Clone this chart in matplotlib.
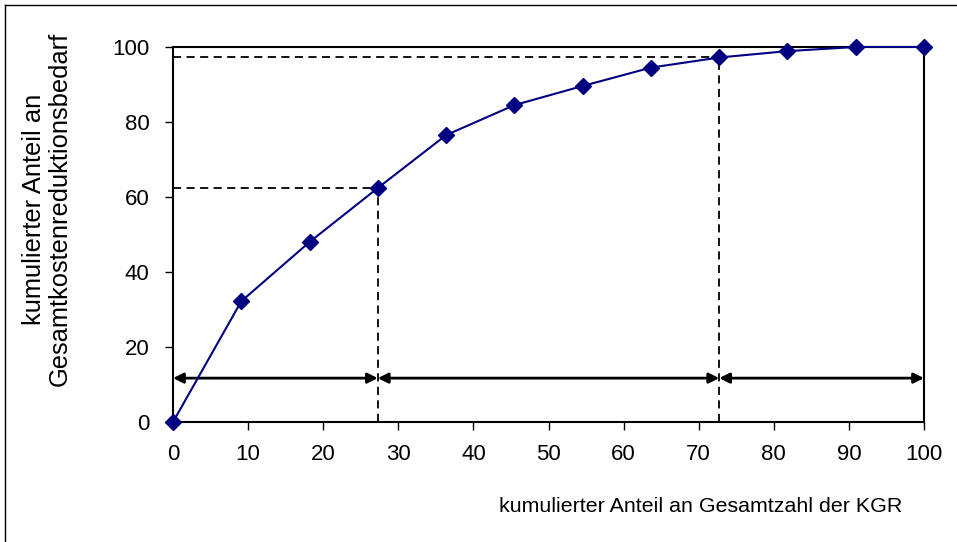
import matplotlib
matplotlib.use("Agg")
import matplotlib.pyplot as plt
from matplotlib.lines import Line2D

plt.rcParams['font.family'] = ['Liberation Sans', 'DejaVu Sans']

# cumulative share of KGR (x) vs cumulative share of cost reduction need (y)
anteil_kgr = [0, 9.09, 18.18, 27.27, 36.36, 45.45, 54.55, 63.64, 72.73, 81.82, 90.91, 100]
anteil_kosten = [0, 32.2, 48.0, 62.4, 76.5, 84.5, 89.6, 94.5, 97.2, 98.9, 100, 100]

# marked thresholds (x, y) for dashed guides
grenzen_x = [27.27, 72.73]
grenzen_y = [62.4, 97.2]
# double arrows spanning the groups
pfeil_grenzen = [0, 27.27, 72.73, 100]
pfeil_y = 11.7

xticks = list(range(0, 101, 10))
yticks = list(range(0, 101, 20))

fig = plt.figure(figsize=(9.57, 5.42), dpi=100)
ax = fig.add_axes([0.1808, 0.2214, 0.9655 - 0.1808, 0.9133 - 0.2214])

for gx, gy in zip(grenzen_x, grenzen_y):
    ax.plot([0, gx], [gy, gy], color='black', lw=1.3, ls=(0, (4.5, 3)), zorder=2)
    ax.plot([gx, gx], [0, gy], color='black', lw=1.3, ls=(0, (4.5, 3)), zorder=2)

for a, b in zip(pfeil_grenzen[:-1], pfeil_grenzen[1:]):
    ax.annotate('', xy=(b, pfeil_y), xytext=(a, pfeil_y),
                arrowprops=dict(arrowstyle='<|-|>', color='black', lw=2.0,
                                mutation_scale=15, shrinkA=0, shrinkB=0))

ax.plot(anteil_kgr, anteil_kosten, color='#000080', lw=1.5, marker='D',
        markersize=8, clip_on=False, zorder=4)

ax.set_xlim(0, 100)
ax.set_ylim(0, 100)
ax.set_xticks(xticks)
ax.set_yticks(yticks)
for s in ax.spines.values():
    s.set_linewidth(1.5)
ax.tick_params(axis='both', direction='out', length=6, width=1, labelsize=16)
ax.tick_params(axis='x', pad=10)
ax.tick_params(axis='y', pad=11)

fig.text(47 / 957, 1 - 209 / 542, 'kumulierter Anteil an\nGesamtkostenreduktionsbedarf',
         rotation=90, ha='center', va='center', fontsize=18.4, linespacing=1.12)
fig.text(701 / 957, 1 - 507 / 542, 'kumulierter Anteil an Gesamtzahl der KGR',
         ha='center', va='center', fontsize=15.4)

# outer frame (left and top edges visible)
fig.add_artist(Line2D([5 / 957, 5 / 957], [0, 1 - 5 / 542], transform=fig.transFigure,
                      color='black', lw=1))
fig.add_artist(Line2D([5 / 957, 1], [1 - 5 / 542, 1 - 5 / 542], transform=fig.transFigure,
                      color='black', lw=1))

fig.savefig('out.png', dpi=100)
